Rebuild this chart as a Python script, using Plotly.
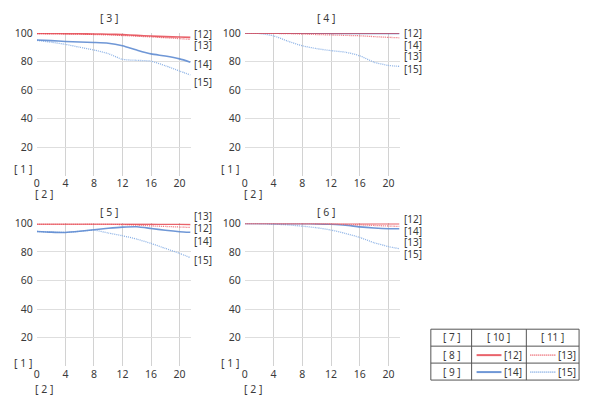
import plotly.graph_objects as go
from plotly.subplots import make_subplots

# image height (mm) - shared by every panel
x_mm = [0, 2, 4, 6, 8, 10, 12, 14, 16, 18, 20, 21.5]

panel_titles = ["[ 3 ]", "[ 4 ]", "[ 5 ]", "[ 6 ]"]
series_names = ["[12]", "[13]", "[14]", "[15]"]

# panel [3]
p3_s12 = [99.6, 99.6, 99.5, 99.4, 99.3, 99.1, 98.8, 98.3, 97.8, 97.4, 97.1, 96.9]
p3_s13 = [99.5, 99.4, 99.3, 99.1, 98.9, 98.6, 98.2, 97.7, 97.2, 96.6, 96.0, 95.5]
p3_s14 = [95.0, 94.6, 94.0, 93.6, 93.3, 92.8, 91.0, 88.0, 85.3, 83.8, 81.8, 79.5]
p3_s15 = [94.8, 93.5, 92.0, 90.0, 88.0, 85.5, 81.5, 80.8, 80.2, 77.0, 73.3, 70.5]

# panel [4]
p4_s12 = [100, 100, 100, 100, 100, 100, 100, 100, 100, 100, 100, 100]
p4_s13 = [100, 99.9, 99.7, 99.5, 99.2, 98.9, 98.6, 98.3, 98.0, 97.4, 96.9, 96.6]
p4_s14 = [100, 100, 99.9, 99.9, 99.8, 99.8, 99.7, 99.7, 99.6, 99.6, 99.6, 99.6]
p4_s15 = [100, 99.6, 98.0, 94.2, 91.0, 89.0, 87.6, 86.5, 84.0, 79.5, 77.2, 76.6]

# panel [5]
p5_s12 = [99.6, 99.6, 99.6, 99.6, 99.6, 99.6, 99.6, 99.5, 99.5, 99.4, 99.4, 99.3]
p5_s13 = [99.6, 99.6, 99.6, 99.6, 99.6, 99.5, 99.2, 98.8, 98.3, 97.9, 97.5, 97.2]
p5_s14 = [94.4, 93.9, 93.7, 94.5, 95.6, 96.6, 97.4, 97.7, 96.5, 95.2, 94.2, 93.8]
p5_s15 = [94.4, 93.9, 93.7, 94.5, 95.3, 93.3, 91.4, 89.0, 86.0, 82.5, 79.0, 76.0]

# panel [6]
p6_s12 = [100, 100, 100, 100, 100, 100, 100, 100, 99.9, 99.9, 99.9, 99.9]
p6_s13 = [100, 100, 100, 99.9, 99.9, 99.8, 99.6, 99.3, 99.0, 98.6, 98.2, 97.9]
p6_s14 = [100, 100, 99.9, 99.9, 99.8, 99.7, 99.4, 98.8, 97.6, 96.8, 96.3, 96.3]
p6_s15 = [100, 99.8, 99.5, 99.0, 98.1, 97.0, 95.4, 93.0, 90.2, 86.5, 83.8, 82.3]

panels = [
    [p3_s12, p3_s13, p3_s14, p3_s15],
    [p4_s12, p4_s13, p4_s14, p4_s15],
    [p5_s12, p5_s13, p5_s14, p5_s15],
    [p6_s12, p6_s13, p6_s14, p6_s15],
]

W, H = 594, 406

# --- layout positions, in pixels of the 594x406 picture ---
x_doms_px = [(35, 190), (244, 400)]
y_doms_px = [(32, 175), (223, 366)]          # top, bottom
title_px = [(108, 17), (326, 17), (108, 212), (326, 212)]
tag1_px = [(21, 168), (229, 168), (21, 363), (229, 363)]
tag2_px = [(42, 193), (252, 193), (42, 389), (252, 389)]
label_x_px = [192, 403, 192, 403]
label_y_px = [
    {"[12]": 33, "[13]": 44, "[14]": 63, "[15]": 81},
    {"[12]": 32, "[14]": 44, "[13]": 55, "[15]": 68},
    {"[13]": 216, "[12]": 228, "[14]": 241, "[15]": 260},
    {"[12]": 219, "[14]": 231, "[13]": 242, "[15]": 254},
]

RED = "rgba(228,60,70,0.8)"
RED_DOT = "rgba(236,105,115,0.95)"
BLUE = "rgba(95,140,210,0.9)"
BLUE_DOT = "rgba(140,178,230,1)"
styles = {
    "[12]": dict(color=RED, width=1.6, dash="solid"),
    "[13]": dict(color=RED_DOT, width=1.3, dash="1px,1px"),
    "[14]": dict(color=BLUE, width=1.6, dash="solid"),
    "[15]": dict(color=BLUE_DOT, width=1.3, dash="1px,1px"),
}
draw_order = ["[15]", "[14]", "[13]", "[12]"]

FONT = "Noto Sans"
TXT = "#3a3a3a"

# the photographed page comes out a little offset/squeezed vertically,
# so map wanted picture pixels back to paper fractions
Y_TOP, Y_SPAN = 6, 400
X_LEFT = 1


def px(x):
    return (x - X_LEFT) / W


def py(y):
    return 1 - (y - Y_TOP) / Y_SPAN


def text_at(fig, t, x, y, size=10.5, xanchor="center", pad=1):
    fig.add_annotation(text=t, xref="paper", yref="paper", x=px(x), y=py(y),
                       xanchor=xanchor, yanchor="middle", showarrow=False,
                       borderpad=pad,
                       font=dict(size=size, color=TXT, family=FONT))


fig = make_subplots(rows=2, cols=2)

for i, series in enumerate(panels):
    r, c = i // 2 + 1, i % 2 + 1
    for name in draw_order:
        ys = series[series_names.index(name)]
        fig.add_trace(go.Scatter(
            x=x_mm, y=ys, mode="lines", name=name, showlegend=False,
            line=dict(shape="spline", smoothing=0.6, **styles[name]),
        ), row=r, col=c)

for i in range(4):
    r, c = i // 2, i % 2
    n = "" if i == 0 else str(i + 1)
    xd = x_doms_px[c]
    yd = y_doms_px[r]
    fig.layout["xaxis" + n].update(
        domain=[px(xd[0]), px(xd[1])], range=[0, 21.6],
        tickvals=[0, 4, 8, 12, 16, 20], showgrid=True, gridcolor="#d2d2d2",
        gridwidth=1, zeroline=False, showline=False, ticks="",
        tickfont=dict(size=10.5, color=TXT, family=FONT),
    )
    fig.layout["yaxis" + n].update(
        domain=[py(yd[1]), py(yd[0])], range=[0, 100],
        tickvals=[20, 40, 60, 80, 100], showgrid=True, gridcolor="#dedede",
        gridwidth=1, zeroline=False, ticks="",
        # white axis line hides the grid line that would sit at x = 0
        showline=True, linecolor="white", linewidth=2,
        tickfont=dict(size=10.5, color=TXT, family=FONT),
    )
    text_at(fig, panel_titles[i], *title_px[i])
    text_at(fig, "[ 1 ]", *tag1_px[i])
    text_at(fig, "[ 2 ]", *tag2_px[i])
    for name, yv in label_y_px[i].items():
        text_at(fig, name, label_x_px[i], yv, size=10, xanchor="left", pad=0)

# legend table
border = dict(color="#555555", width=1)
fig.add_shape(type="rect", xref="paper", yref="paper",
              x0=px(431), x1=px(580), y0=py(380), y1=py(329), line=border)
for xv in (472, 527):
    fig.add_shape(type="line", xref="paper", yref="paper",
                  x0=px(xv), x1=px(xv), y0=py(380), y1=py(329), line=border)
for yv in (346, 363):
    fig.add_shape(type="line", xref="paper", yref="paper",
                  x0=px(431), x1=px(580), y0=py(yv), y1=py(yv), line=border)

table_text = [
    ("[ 7 ]", 452, 337), ("[ 10 ]", 499, 337), ("[ 11 ]", 553, 337),
    ("[ 8 ]", 452, 355), ("[ 9 ]", 452, 372),
    ("[12]", 514, 355), ("[13]", 568, 355),
    ("[14]", 514, 372), ("[15]", 568, 372),
]
for t, xv, yv in table_text:
    text_at(fig, t, xv, yv, size=10)

legend_lines = [
    ("[12]", 477, 502, 355), ("[13]", 531, 557, 355),
    ("[14]", 477, 502, 372), ("[15]", 531, 557, 372),
]
for name, xa, xb, yv in legend_lines:
    st = styles[name]
    fig.add_shape(type="line", xref="paper", yref="paper",
                  x0=px(xa), x1=px(xb), y0=py(yv), y1=py(yv),
                  line=dict(color=st["color"], width=st["width"] + 0.4, dash=st["dash"]))

fig.update_layout(
    width=W, height=H,
    margin=dict(l=0, r=0, t=0, b=0),
    paper_bgcolor="white", plot_bgcolor="white",
    font=dict(family=FONT, color=TXT),
)

fig.write_html("out.html", config={"displayModeBar": False},
               post_script="document.body.style.margin='0';")
